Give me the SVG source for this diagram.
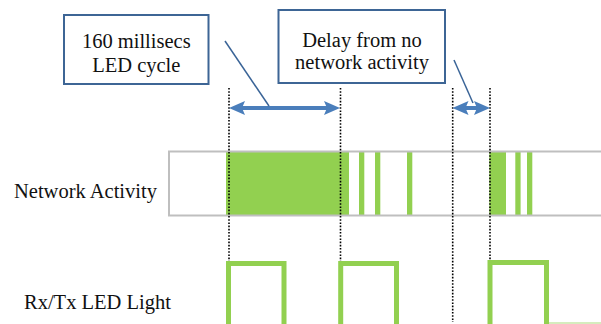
<svg xmlns="http://www.w3.org/2000/svg" width="601" height="324" viewBox="0 0 601 324">
<style>
  .t { font-family: 'Liberation Serif', 'DejaVu Serif', serif; font-size: 20.5px; fill: #111; }
  .box { fill: #fff; stroke: #3d6595; stroke-width: 2; }
  .dot { stroke: #000; stroke-width: 1.6; stroke-dasharray: 1.6 1.6; fill: none; }
  .arrow { stroke: #4a7ebb; stroke-width: 4; fill: none; }
  .leader { stroke: #3a6497; stroke-width: 1.5; fill: none; }
  .act { fill: #92d050; }
  .pulse { stroke: #92d050; stroke-width: 5; fill: none; stroke-linejoin: miter; }
</style>
<defs>
  <marker id="head" viewBox="0 0 16 14" refX="6" refY="7" markerWidth="16" markerHeight="14" markerUnits="userSpaceOnUse" orient="auto-start-reverse">
    <path d="M0,0 L16,7 L0,14 L3,7 z" fill="#4a7ebb"/>
  </marker>
</defs>

<g id="network-activity-bar">
  <rect x="169" y="151.5" width="440" height="64" fill="#fff"/>
  <rect class="act" x="226" y="152" width="123" height="63"/>
  <rect class="act" x="359" y="152" width="5.3" height="63"/>
  <rect class="act" x="375" y="152" width="5.3" height="63"/>
  <rect class="act" x="407" y="152" width="5.3" height="63"/>
  <rect class="act" x="489.3" y="152" width="16.7" height="63"/>
  <rect class="act" x="515.3" y="152" width="5.3" height="63"/>
  <rect class="act" x="527" y="152" width="5.3" height="63"/>
  <rect x="169" y="151.5" width="440" height="64" fill="none" stroke="#bfbfbf" stroke-width="2"/>
</g>

<g id="led-pulses">
  <path class="pulse" d="M228.5,324 V263.5 H284 V324"/>
  <path class="pulse" d="M340.7,324 V263.5 H396.5 V324"/>
  <path class="pulse" d="M490,324 V262.5 H546.5 V324"/>
  <line x1="549" y1="323" x2="601" y2="323" stroke="#c9e6a8" stroke-width="1.5"/>
</g>

<g id="connectors">
  <line class="dot" x1="229" y1="88" x2="229" y2="261"/>
  <line class="dot" x1="340.5" y1="88" x2="340.5" y2="261"/>
  <line class="dot" x1="452.7" y1="88" x2="452.7" y2="322"/>
  <line class="dot" x1="490" y1="88" x2="490" y2="260"/>
  <line class="arrow" x1="239" y1="108" x2="330" y2="108" marker-start="url(#head)" marker-end="url(#head)"/>
  <line class="arrow" x1="462.5" y1="108" x2="480" y2="108" marker-start="url(#head)" marker-end="url(#head)"/>
  <line class="leader" x1="225" y1="41" x2="269" y2="106"/>
  <line class="leader" x1="454" y1="60" x2="473" y2="103"/>
</g>

<g id="box-led-cycle">
  <rect class="box" x="64" y="15" width="144.5" height="69"/>
  <text class="t" font-family="'Liberation Serif', serif" x="136.3" y="48.3" text-anchor="middle">160 millisecs</text>
  <text class="t" font-family="'Liberation Serif', serif" x="136.3" y="71.7" text-anchor="middle">LED cycle</text>
</g>

<g id="box-delay">
  <rect class="box" x="278.5" y="10" width="166.5" height="73"/>
  <text class="t" font-family="'Liberation Serif', serif" x="362" y="46.7" text-anchor="middle">Delay from no</text>
  <text class="t" font-family="'Liberation Serif', serif" x="362" y="69" text-anchor="middle">network activity</text>
</g>

<g id="label-network">
  <text class="t" font-family="'Liberation Serif', serif" x="14" y="198.3">Network Activity</text>
</g>

<g id="label-led">
  <text class="t" font-family="'Liberation Serif', serif" x="24" y="308.5">Rx/Tx LED Light</text>
</g>
</svg>
